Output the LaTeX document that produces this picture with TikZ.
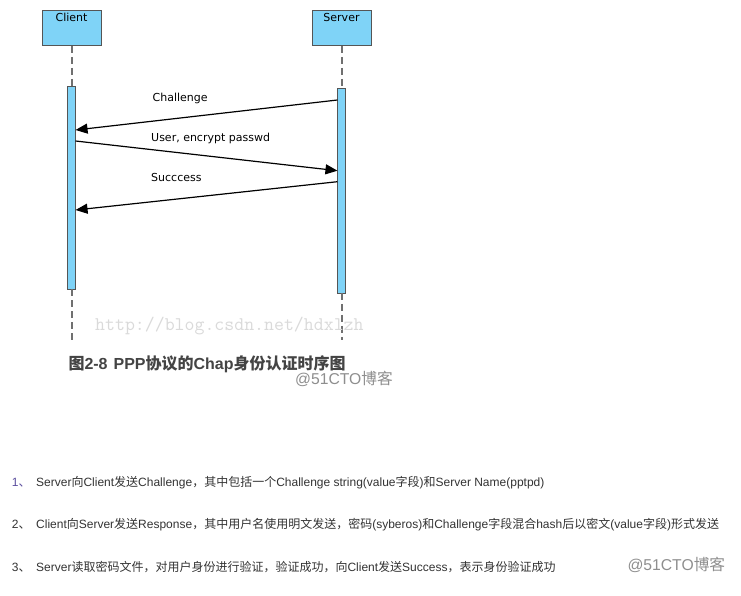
\documentclass[tikz,border=0pt]{standalone}
\usepackage{fontspec}
\setmainfont{Liberation Sans}
\newfontfamily\cjk{Noto Sans CJK SC}
\newfontfamily\dejavu{DejaVu Sans}
\usepackage{xcolor}
\definecolor{seqBlue}{HTML}{7FD3F7}
\definecolor{seqEdge}{HTML}{555555}
\definecolor{seqLine}{HTML}{707070}
\definecolor{noteText}{HTML}{333333}
\definecolor{notePurple}{HTML}{5B4E9E}
\definecolor{capGray}{HTML}{444444}
\definecolor{urlGray}{HTML}{DADADA}
\definecolor{logoGray}{HTML}{8E8E8E}
\usepackage{tikz}
\usetikzlibrary{arrows.meta, positioning}

% Chinese characters switch to the CJK font by themselves
\XeTeXinterchartokenstate=1
\newXeTeXintercharclass\cjkclass
\count255="3000
\loop\ifnum\count255<"A000 \XeTeXcharclass\count255=\cjkclass \advance\count255 by 1 \repeat
\XeTeXcharclass"FF0C=\cjkclass
\XeTeXinterchartoks 0 \cjkclass={\begingroup\cjk}
\XeTeXinterchartoks 4095 \cjkclass={\begingroup\cjk}
\XeTeXinterchartoks \cjkclass 0={\endgroup}
\XeTeXinterchartoks \cjkclass 4095={\endgroup}

\begin{document}
\begin{tikzpicture}[x=1pt, y=-1pt,
    head/.style={draw=seqEdge, fill=seqBlue, minimum width=59pt, minimum height=35pt, inner sep=0pt},
    headtxt/.style={font=\dejavu\fontsize{11}{13}\selectfont, inner sep=0pt},
    bar/.style={draw=seqEdge, fill=seqBlue, minimum width=7.7pt, inner sep=0pt},
    life/.style={seqLine, line width=2pt, dash pattern=on 7pt off 4pt},
    msg/.style={black, line width=1.2pt, -{Triangle[length=12pt, width=10pt]}},
    msgtxt/.style={font=\dejavu\fontsize{11}{13}\selectfont, anchor=base west, inner sep=0pt},
    note/.style={font=\fontsize{12}{14}\selectfont, text=noteText, anchor=base west, inner sep=0pt},
    logo/.style={font=\fontsize{15.7}{18}\selectfont, text=logoGray, anchor=base west, inner sep=0pt}]
    \fill[white] (0,0) rectangle (741,596);
    \useasboundingbox (0,0) rectangle (741,596);

    % participants
    \node[head] (client) at (71.5,28.2) {};
    \node[head] (server) at (341.5,28.2) {};
    \node[headtxt, below=2.8pt of client.north] (clientname) {Client};
    \node[headtxt, below=2.8pt of server.north] (servername) {Server};

    % activations and lifelines
    \node[bar, minimum height=202.3pt] (cbar) at (71.5,187.85) {};
    \node[bar, minimum height=204pt] (sbar) at (341.5,190.7) {};
    \coordinate (cend) at (71.5,340);
    \coordinate (send) at (341.5,340);
    \draw[life] (client.south) -- (cbar.north);
    \draw[life] (server.south) -- (sbar.north);
    \draw[life] (cbar.south) -- (cend);
    \draw[life] (sbar.south) -- (send);

    % messages
    \draw[msg] (sbar.west |- 0,100) -- (cbar.east |- 0,130);
    \draw[msg] (cbar.east |- 0,141) -- (sbar.west |- 0,170.7);
    \draw[msg] (sbar.west |- 0,181.7) -- (cbar.east |- 0,210);
    \node[msgtxt] (challenge) at (152.5,102) {Challenge};
    \node[msgtxt] (response) at (151,142) {User, encrypt passwd};
    \node[msgtxt] (success) at (151,182) {Succcess};

    % caption and watermarks
    \node[anchor=base west, inner sep=0pt, font=\ttfamily\fontsize{19.3}{21}\selectfont, text=urlGray] (url) at (95,330.5) {http://blog.csdn.net/hdxlzh};
    \node[anchor=base west, inner sep=0pt, font=\bfseries\fontsize{16}{18}\selectfont, text=capGray] (caption) at (68.3,369.5) {图2-8\hspace{6pt}PPP协议的Chap身份认证时序图};
    \node[logo] (logo1) at (295,384) {@51CTO博客};

    % steps
    \node[note, text=notePurple] (n1) at (11.7,486) {1、};
    \node[note] (n2) at (11.7,528.5) {2、};
    \node[note] (n3) at (11.7,571) {3、};
    \node[note] (s1) at (36,486) {Server向Client发送Challenge，其中包括一个Challenge string(value字段)和Server Name(pptpd)};
    \node[note] (s2) at (36,528.5) {Client向Server发送Response，其中用户名使用明文发送，密码(syberos)和Challenge字段混合hash后以密文(value字段)形式发送};
    \node[note] (s3) at (36,571) {Server读取密码文件，对用户身份进行验证，验证成功，向Client发送Success，表示身份验证成功};
    \node[logo] (logo2) at (627.3,570) {@51CTO博客};
\end{tikzpicture}
\end{document}
